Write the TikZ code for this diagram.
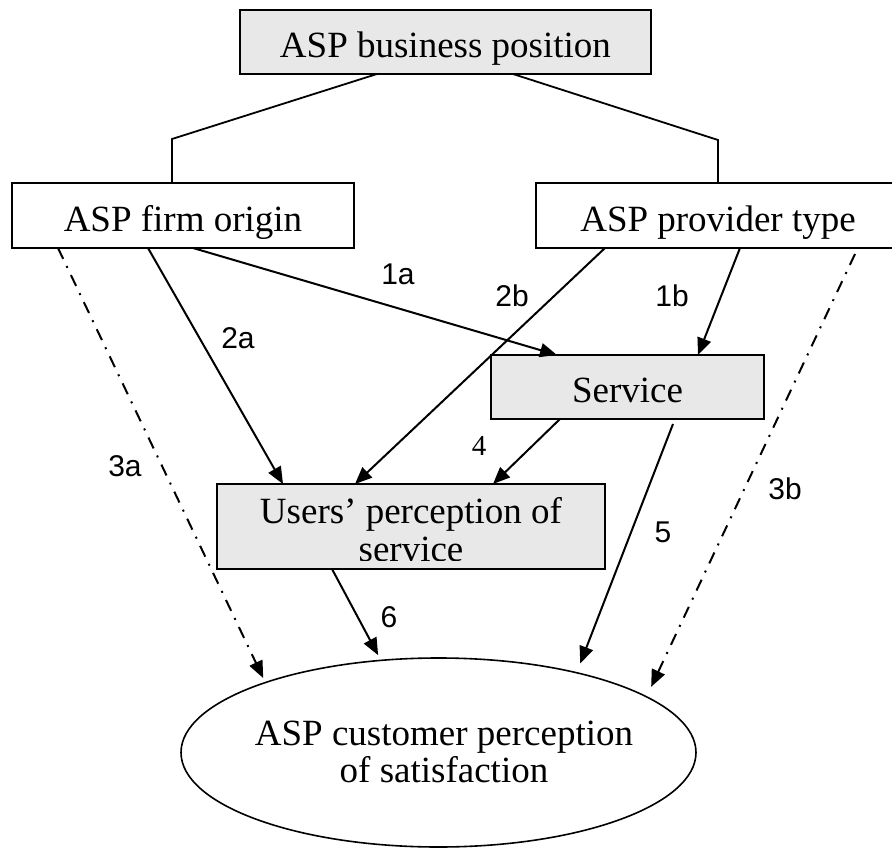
\documentclass[tikz,border=0pt]{standalone}
\usepackage{fontspec}
\setmainfont{Liberation Serif}
\newfontfamily\labelsans{Liberation Sans}
\usetikzlibrary{arrows.meta,shapes.geometric}
\definecolor{boxgray}{RGB}{232,232,232}
\begin{document}
\begin{tikzpicture}[x=1pt,y=-1pt,
  every node/.style={inner sep=0pt, outer sep=0pt},
  box/.style={draw, line width=2pt, rectangle, text height=31.5pt, text depth=0pt,
              font=\fontsize{37}{37}\selectfont},
  shaded/.style={box, fill=boxgray},
  plain/.style={box, fill=white},
  link/.style={line width=2pt, -{Triangle[length=17pt,width=14pt]}},
  dashdot/.style={link, dash pattern=on 12pt off 8pt on 2pt off 8pt},
  tree/.style={line width=1.8pt},
  num/.style={font=\labelsans\fontsize{30}{30}\selectfont},
  numserif/.style={font=\fontsize{29}{29}\selectfont},
  body/.style={font=\fontsize{37}{37}\selectfont, anchor=base}
]
\useasboundingbox (0,0) rectangle (892,848);

% boxes
\node[shaded, minimum width=411pt, minimum height=64pt] (top) at (445.5,42) {ASP business position};
\node[plain, minimum width=342pt, minimum height=65pt] (firm) at (183,215.5) {ASP firm origin};
\node[plain, minimum width=364pt, minimum height=65pt] (prov) at (718,215.5) {ASP provider type};
\node[shaded, minimum width=273pt, minimum height=64pt] (serv) at (627.5,387) {Service};
\node[shaded, minimum width=388pt, minimum height=85pt] (users) at (411,526.5) {};
\begin{scope}
  \clip (users.north west) rectangle ([yshift=9pt]users.south east);
  \node[body] (usersA) at (411,523) {Users’ perception of};
  \node[body] (usersB) at (411,561) {service};
\end{scope}
\node[ellipse, draw, line width=1.6pt, minimum width=515pt, minimum height=189pt] (sat) at (438.5,752.5) {};
\node[body] (satA) at (444,745) {ASP customer perception};
\node[body] (satB) at (444,782) {of satisfaction};

% hierarchy lines
\coordinate (bendL) at (172,139);
\coordinate (bendR) at (718,140);
\draw[tree] ([xshift=137pt]top.south west) -- (bendL) -- (bendL |- firm.north);
\draw[tree] ([xshift=273pt]top.south west) -- (bendR) -- (bendR |- prov.north);

% relations
\draw[dashdot, shorten >=5pt] ([xshift=46pt]firm.south west) -- (sat.158);
\draw[link] ([xshift=136pt]firm.south west) -- ([xshift=66pt]users.north west);
\draw[link] ([xshift=181pt]firm.south west) -- ([xshift=66pt]serv.north west);
\draw[link] ([xshift=69pt]prov.south west) -- ([xshift=138pt]users.north west);
\draw[link] ([xshift=204pt]prov.south west) -- ([xshift=207pt]serv.north west);
\draw[dashdot, shorten >=11pt] ([xshift=319pt,yshift=-6pt]prov.south west) -- (sat.15);
\draw[link] ([xshift=69pt]serv.south west) -- ([xshift=276pt]users.north west);
\draw[link, shorten >=10pt] ([xshift=182pt,yshift=-5pt]serv.south west) -- (sat.30);
\draw[link, shorten >=6pt] ([xshift=115pt]users.south west) -- (sat.122);

% path labels
\node[num] (l1a) at (398,274) {1a};
\node[num] (l2a) at (238,338) {2a};
\node[num] (l2b) at (512,296) {2b};
\node[num] (l1b) at (672,296) {1b};
\node[num] (l3a) at (125,466) {3a};
\node[numserif] (l4) at (479,446) {4};
\node[num] (l3b) at (785,489) {3b};
\node[num] (l5) at (663,532) {5};
\node[num] (l6) at (389,617) {6};
\end{tikzpicture}
\end{document}
